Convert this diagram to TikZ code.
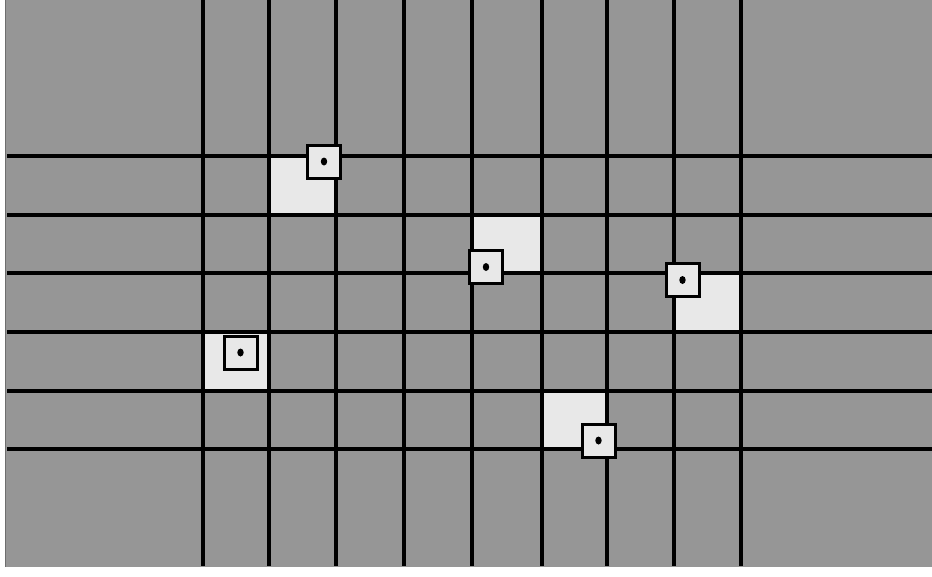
\documentclass[tikz,border=0pt]{standalone}
\usepackage{xcolor}
\definecolor{board}{RGB}{150,150,150}
\definecolor{cellhi}{RGB}{232,232,232}
\definecolor{rim}{RGB}{110,110,110}

\tikzset{
  gridline/.style={black, line width=3.6pt},
  probebox/.style={draw=black, line width=3pt, fill=cellhi, minimum size=33pt, inner sep=0pt},
}

\begin{document}
\begin{tikzpicture}[x=1pt, y=-1pt]
  \useasboundingbox (0,0) rectangle (932,576);
  \fill[board] (5,0) rectangle (932,567);
  \draw[rim, line width=0.6pt] (5,0) -- (5,567);

  % highlighted cells
  \fill[cellhi] (269,156) rectangle (336,215);
  \fill[cellhi] (472,215) rectangle (542,273);
  \fill[cellhi] (674,273) rectangle (741,332);
  \fill[cellhi] (203,332) rectangle (269,391);
  \fill[cellhi] (542,391) rectangle (607,449);

  % horizontal lines
  \draw[gridline] (7,156) -- (932,156);
  \draw[gridline] (7,215) -- (932,215);
  \draw[gridline] (7,273) -- (932,273);
  \draw[gridline] (7,332) -- (932,332);
  \draw[gridline] (7,391) -- (932,391);
  \draw[gridline] (7,449) -- (932,449);

  % vertical lines
  \draw[gridline] (203,0) -- (203,566);
  \draw[gridline] (269,0) -- (269,566);
  \draw[gridline] (336,0) -- (336,566);
  \draw[gridline] (404,0) -- (404,566);
  \draw[gridline] (472,0) -- (472,566);
  \draw[gridline] (542,0) -- (542,566);
  \draw[gridline] (607,0) -- (607,566);
  \draw[gridline] (674,0) -- (674,566);
  \draw[gridline] (741,0) -- (741,566);

  % probes
  \node[probebox] (probeA) at (324,161.5) {};
  \node[probebox] (probeB) at (486,267) {};
  \node[probebox] (probeC) at (682.5,280) {};
  \node[probebox] (probeD) at (240.5,352.5) {};
  \node[probebox] (probeE) at (598.5,440.5) {};

  \fill[black] (probeA.center) ellipse (3.2pt and 4pt);
  \fill[black] (probeB.center) ellipse (3.2pt and 4pt);
  \fill[black] (probeC.center) ellipse (3.2pt and 4pt);
  \fill[black] (probeD.center) ellipse (3.2pt and 4pt);
  \fill[black] (probeE.center) ellipse (3.2pt and 4pt);

\end{tikzpicture}
\end{document}
